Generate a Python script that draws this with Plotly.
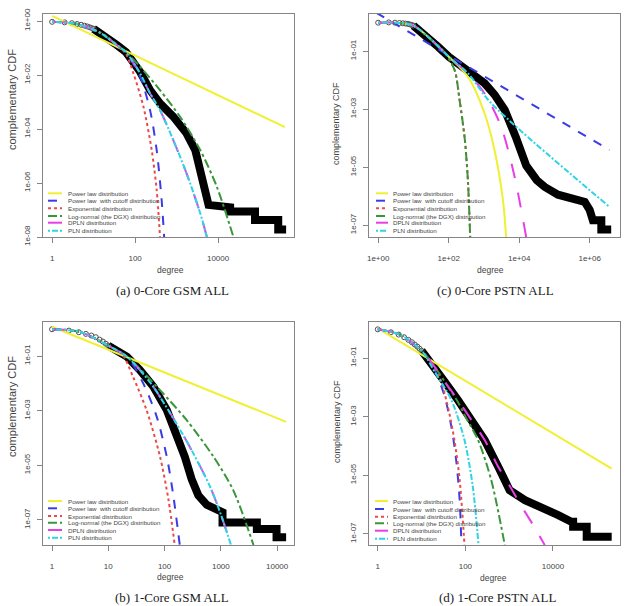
import plotly.graph_objects as go

# ---------------- DATA (log10 of degree, log10 of complementary CDF) ----------------
# Panel (a) 0-Core GSM ALL
A_HEAD_LX = [0, 0.301, 0.477, 0.602, 0.699, 0.778, 0.845, 0.903, 0.954, 1.0]
A_HEAD_LY = [-0.03, -0.05, -0.08, -0.11, -0.14, -0.17, -0.20, -0.23, -0.26, -0.29]
A_EMP_LX = [1.0, 1.16, 1.4, 1.56, 1.78, 2.0, 2.12, 2.36, 2.6, 2.92, 3.24, 3.45, 3.55, 3.63, 3.69, 3.73, 3.77,
            4.29, 4.29, 4.89, 4.89, 5.45, 5.45, 5.64]
A_EMP_LY = [-0.29, -0.44, -0.70, -0.89, -1.15, -1.55, -1.88, -2.56, -3.05, -3.54, -4.16, -4.78, -5.40, -5.77,
            -6.26, -6.63, -6.81, -6.90, -7.06, -7.06, -7.37, -7.37, -7.72, -7.72]
A_PL_LX = [0, 5.61]
A_PL_LY = [0.19, -3.93]
A_PLC_LX = [0, 0.6, 1.16, 1.56, 1.78, 2.12, 2.36, 2.52, 2.64, 2.70]
A_PLC_LY = [-0.03, -0.11, -0.44, -0.89, -1.18, -2.06, -3.30, -4.78, -6.63, -8.0]
A_EXP_LX = [0, 0.6, 1.16, 1.56, 1.78, 1.96, 2.2, 2.40, 2.52, 2.60]
A_EXP_LY = [-0.03, -0.10, -0.42, -0.88, -1.22, -1.94, -3.17, -4.78, -6.26, -8.0]
A_LN_LX = [0, 0.6, 1.16, 1.56, 1.78, 2.12, 2.60, 3.08, 3.57, 3.97, 4.37]
A_LN_LY = [-0.03, -0.11, -0.44, -0.89, -1.15, -1.69, -2.56, -3.54, -4.78, -6.14, -8.0]
A_DPLN_LX = [0, 0.6, 1.16, 1.56, 1.78, 2.12, 2.36, 2.60, 2.92, 3.24, 3.57, 3.73]
A_DPLN_LY = [-0.03, -0.11, -0.44, -0.89, -1.15, -1.94, -2.68, -3.30, -4.41, -5.64, -7.12, -8.0]
A_PLN_LX = [0, 0.6, 1.16, 1.56, 1.78, 2.12, 2.36, 2.60, 2.92, 3.24, 3.57, 3.73]
A_PLN_LY = [-0.03, -0.11, -0.44, -0.89, -1.15, -1.94, -2.68, -3.30, -4.41, -5.64, -7.12, -8.0]

# Panel (c) 0-Core PSTN ALL
C_HEAD_LX = [0, 0.301, 0.477, 0.602, 0.699, 0.778, 0.845, 0.903, 0.954, 1.0]
C_HEAD_LY = [-0.02, -0.01, -0.02, -0.03, -0.04, -0.05, -0.06, -0.08, -0.10, -0.12]
C_EMP_LX = [1.0, 1.42, 1.7, 2.01, 2.3, 2.55, 3.02, 3.3, 3.59, 3.9, 4.2, 4.5, 4.72, 5.1, 5.48, 5.86, 6.0, 6.09,
            6.33, 6.33, 6.61]
C_EMP_LY = [-0.12, -0.51, -0.85, -1.2, -1.45, -1.66, -2.11, -2.5, -3.03, -3.95, -4.95, -5.45, -5.68, -5.95,
            -6.1, -6.2, -6.48, -6.83, -6.83, -7.15, -7.15]
C_PL_LX = [0, 0.5, 1.0, 1.42, 2.01, 2.55, 3.02, 3.30, 3.54, 3.63]
C_PL_LY = [-0.02, -0.02, -0.12, -0.51, -1.2, -1.89, -3.15, -4.41, -6.14, -7.42]
C_PLC_LX = [-0.05, 6.56]
C_PLC_LY = [0.32, -4.41]
C_EXP_LX = [0, 0.5, 1.0, 1.42, 1.9, 2.17, 2.31, 2.46, 2.55, 2.61]
C_EXP_LY = [-0.02, -0.02, -0.12, -0.51, -1.07, -1.66, -2.69, -4.07, -5.56, -7.42]
C_LN_LX = [0, 0.5, 1.0, 1.42, 1.9, 2.17, 2.31, 2.46, 2.55, 2.61]
C_LN_LY = [-0.02, -0.02, -0.12, -0.51, -1.07, -1.66, -2.69, -4.07, -5.56, -7.42]
C_DPLN_LX = [0, 0.5, 1.0, 1.42, 2.01, 2.55, 3.02, 3.49, 3.87, 4.2]
C_DPLN_LY = [-0.02, -0.02, -0.12, -0.51, -1.2, -1.77, -2.46, -3.61, -5.33, -7.42]
C_PLN_LX = [0, 0.5, 1.0, 1.42, 2.01, 2.55, 3.21, 6.56]
C_PLN_LY = [-0.02, -0.02, -0.12, -0.51, -1.2, -1.77, -2.80, -6.37]

# Panel (b) 1-Core GSM ALL
B_HEAD_LX = [0, 0.301, 0.477, 0.602, 0.699, 0.778, 0.845, 0.903, 0.954, 1.0]
B_HEAD_LY = [-0.02, -0.07, -0.13, -0.19, -0.25, -0.31, -0.40, -0.47, -0.55, -0.62]
B_EMP_LX = [1.0, 1.33, 1.56, 1.80, 2.04, 2.21, 2.36, 2.48, 2.6, 2.75, 2.9, 3.03, 3.03, 3.64, 3.64, 3.99, 3.99, 4.16]
B_EMP_LY = [-0.62, -1.02, -1.51, -2.12, -2.98, -3.83, -4.69, -5.5, -6.1, -6.45, -6.62, -6.72, -7.10, -7.10,
            -7.33, -7.33, -7.64, -7.64]
B_PL_LX = [0, 4.16]
B_PL_LY = [0.07, -3.41]
B_PLC_LX = [0, 0.5, 1.0, 1.33, 1.62, 1.86, 2.04, 2.15, 2.27]
B_PLC_LY = [-0.02, -0.12, -0.62, -1.02, -2.0, -3.22, -4.69, -6.03, -7.92]
B_EXP_LX = [0, 0.5, 1.0, 1.25, 1.44, 1.68, 1.92, 2.07, 2.18]
B_EXP_LY = [-0.02, -0.12, -0.62, -0.95, -1.76, -2.98, -4.69, -6.27, -7.92]
B_LN_LX = [0, 0.5, 1.0, 1.33, 1.6, 1.92, 2.39, 2.87, 3.22, 3.58]
B_LN_LY = [-0.02, -0.12, -0.62, -1.02, -1.55, -2.25, -3.34, -4.69, -5.91, -7.92]
B_DPLN_LX = [0, 0.5, 1.0, 1.33, 1.56, 1.80, 1.92, 2.21, 2.51, 2.81, 3.0, 3.18]
B_DPLN_LY = [-0.02, -0.12, -0.62, -1.02, -1.51, -2.12, -2.5, -3.47, -4.56, -5.79, -6.8, -7.92]
B_PLN_LX = [0, 0.5, 1.0, 1.33, 1.56, 1.80, 1.92, 2.21, 2.51, 2.81, 3.0, 3.18]
B_PLN_LY = [-0.02, -0.12, -0.62, -1.02, -1.51, -2.12, -2.5, -3.47, -4.56, -5.79, -6.8, -7.92]

# Panel (d) 1-Core PSTN ALL
D_HEAD_LX = [0, 0.301, 0.477, 0.602, 0.699, 0.778, 0.845, 0.903, 0.954, 1.0]
D_HEAD_LY = [-0.02, -0.12, -0.20, -0.29, -0.38, -0.46, -0.54, -0.61, -0.68, -0.75]
D_EMP_LX = [1.0, 1.30, 1.53, 1.83, 2.14, 2.44, 2.75, 3.01, 3.36, 3.81, 4.12, 4.42, 4.46, 4.46, 4.77, 4.77, 5.34]
D_EMP_LY = [-0.75, -1.3, -1.81, -2.43, -3.12, -3.8, -4.71, -5.51, -5.85, -6.13, -6.36, -6.59, -6.59, -6.76,
            -6.76, -7.10, -7.10]
D_PL_LX = [0, 5.34]
D_PL_LY = [0.01, -4.77]
D_PLC_LX = [0, 0.5, 1.0, 1.2, 1.37, 1.53, 1.68, 1.79, 1.87, 1.91]
D_PLC_LY = [-0.02, -0.2, -0.75, -1.1, -1.64, -2.32, -3.34, -4.48, -5.85, -7.38]
D_EXP_LX = [0, 0.5, 1.0, 1.2, 1.41, 1.6, 1.75, 1.87, 1.98]
D_EXP_LY = [-0.02, -0.2, -0.75, -1.1, -1.64, -2.66, -3.8, -5.16, -7.38]
D_LN_LX = [0, 0.5, 1.0, 1.3, 1.53, 1.83, 2.0, 2.29, 2.59, 2.90]
D_LN_LY = [-0.02, -0.2, -0.75, -1.3, -1.81, -2.5, -3.0, -3.8, -5.16, -7.38]
D_DPLN_LX = [0, 0.5, 1.0, 1.3, 1.53, 1.83, 2.14, 2.44, 2.75, 3.01, 3.36, 3.59, 3.81]
D_DPLN_LY = [-0.02, -0.2, -0.75, -1.3, -1.81, -2.43, -3.12, -3.8, -4.71, -5.36, -6.25, -6.8, -7.38]
D_PLN_LX = [0, 0.5, 1.0, 1.3, 1.68, 1.98, 2.17, 2.30]
D_PLN_LY = [-0.02, -0.2, -0.75, -1.47, -2.43, -3.8, -5.39, -7.38]

SERIES_NAMES = ["Power law distribution", "Power law  with cutoff distribution", "Exponential distribution",
                "Log-normal (the DGX) distribution", "DPLN distribution", "PLN distribution"]
CAPTIONS = ["(a) 0-Core GSM ALL", "(c) 0-Core PSTN ALL", "(b) 1-Core GSM ALL", "(d) 1-Core PSTN ALL"]

# tick values / labels
A_XT = [1, 100, 10000]; A_XL = ["1", "100", "10000"]
A_YT = [1, 1e-2, 1e-4, 1e-6, 1e-8]; A_YL = ["1e+00", "1e-02", "1e-04", "1e-06", "1e-08"]
C_XT = [1, 100, 1e4, 1e6]; C_XL = ["1e+00", "1e+02", "1e+04", "1e+06"]
C_YT = [1e-1, 1e-3, 1e-5, 1e-7]; C_YL = ["1e-01", "1e-03", "1e-05", "1e-07"]
B_XT = [1, 10, 100, 1000, 10000]; B_XL = ["1", "10", "100", "1000", "10000"]
B_YT = [1e-1, 1e-3, 1e-5, 1e-7]; B_YL = ["1e-01", "1e-03", "1e-05", "1e-07"]
D_XT = [1, 100, 10000]; D_XL = ["1", "100", "10000"]
D_YT = [1e-1, 1e-3, 1e-5, 1e-7]; D_YL = ["1e-01", "1e-03", "1e-05", "1e-07"]

# ---------------- STYLE ----------------
W, H = 638, 606
COLORS = ["#f0f032", "#3c3ce6", "#ea4a4a", "#3a963a", "#e83ee8", "#2ed4e4"]
DASHES = ["solid", "dash", "dot", "dashdot", "longdash", "2px,2px,6px,2px"]
TXT = "#444444"


def pw(v):
    return [10 ** t for t in v]


def fx(px):
    return px / W


def fy(py):
    return 1 - py / H


panels = [
    dict(key="", head=(A_HEAD_LX, A_HEAD_LY), emp=(A_EMP_LX, A_EMP_LY),
         fits=[(A_PL_LX, A_PL_LY), (A_PLC_LX, A_PLC_LY), (A_EXP_LX, A_EXP_LY), (A_LN_LX, A_LN_LY),
               (A_DPLN_LX, A_DPLN_LY), (A_PLN_LX, A_PLN_LY)],
         box=(43, 294, 14, 237), xr=[-0.22, 5.83], yr=[-8.0, 0.26], xt=(A_XT, A_XL), yt=(A_YT, A_YL),
         leg=(48, 62, 66, [193.3, 200.7, 208.3, 216, 222.7, 230.7]),
         cap=(172, 290), deg=(170, 270), ylab=(12, 100, 11)),
    dict(key="2", head=(C_HEAD_LX, C_HEAD_LY), emp=(C_EMP_LX, C_EMP_LY),
         fits=[(C_PL_LX, C_PL_LY), (C_PLC_LX, C_PLC_LY), (C_EXP_LX, C_EXP_LY), (C_LN_LX, C_LN_LY),
               (C_DPLN_LX, C_DPLN_LY), (C_PLN_LX, C_PLN_LY)],
         box=(369, 620, 14, 237), xr=[-0.26, 6.86], yr=[-7.41, 0.28], xt=(C_XT, C_XL), yt=(C_YT, C_YL),
         leg=(376, 388, 391, [193.3, 200.7, 208.3, 216, 222.7, 230.7]),
         cap=(496, 290), deg=(490, 270), ylab=(336, 124, 9)),
    dict(key="3", head=(B_HEAD_LX, B_HEAD_LY), emp=(B_EMP_LX, B_EMP_LY),
         fits=[(B_PL_LX, B_PL_LY), (B_PLC_LX, B_PLC_LY), (B_EXP_LX, B_EXP_LY), (B_LN_LX, B_LN_LY),
               (B_DPLN_LX, B_DPLN_LY), (B_PLN_LX, B_PLN_LY)],
         box=(43, 294, 322, 545), xr=[-0.16, 4.30], yr=[-7.92, 0.245], xt=(B_XT, B_XL), yt=(B_YT, B_YL),
         leg=(48, 62, 66, [501, 508.3, 516, 522.7, 530, 537.7]),
         cap=(172, 597), deg=(170, 577), ylab=(12, 407, 11)),
    dict(key="4", head=(D_HEAD_LX, D_HEAD_LY), emp=(D_EMP_LX, D_EMP_LY),
         fits=[(D_PL_LX, D_PL_LY), (D_PLC_LX, D_PLC_LY), (D_EXP_LX, D_EXP_LY), (D_LN_LX, D_LN_LY),
               (D_DPLN_LX, D_DPLN_LY), (D_PLN_LX, D_PLN_LY)],
         box=(369, 620, 322, 545), xr=[-0.2, 5.53], yr=[-7.38, 0.23], xt=(D_XT, D_XL), yt=(D_YT, D_YL),
         leg=(375, 388, 391, [501, 509, 516.7, 523.3, 530.7, 538.7]),
         cap=(497, 597), deg=(493, 578), ylab=(337, 422, 9)),
]

fig = go.Figure()
annotations = []
shapes = []
layout_axes = {}

for i, p in enumerate(panels):
    k = p["key"]
    xa, ya = "x" + k, "y" + k
    # empirical data: thick black band of open circles
    fig.add_trace(go.Scatter(x=pw(p["emp"][0]), y=pw(p["emp"][1]), xaxis=xa, yaxis=ya, mode="lines",
                             line=dict(color="black", width=8), showlegend=False, hoverinfo="skip"))
    fig.add_trace(go.Scatter(x=pw(p["head"][0]), y=pw(p["head"][1]), xaxis=xa, yaxis=ya, mode="markers",
                             marker=dict(symbol="circle-open", size=5, color="#505050", line=dict(width=1)),
                             showlegend=False, hoverinfo="skip"))
    for j, (lx, ly) in enumerate(p["fits"]):
        fig.add_trace(go.Scatter(x=pw(lx), y=pw(ly), xaxis=xa, yaxis=ya, mode="lines", name=SERIES_NAMES[j],
                                 line=dict(color=COLORS[j], width=2, dash=DASHES[j], shape="spline",
                                           smoothing=0.8),
                                 showlegend=False))
    x0, x1, y0, y1 = p["box"]
    axis_common = dict(type="log", showgrid=False, zeroline=False, showline=True, mirror=True,
                       linecolor="#858585", linewidth=1, ticks="outside", ticklen=5, tickcolor="#858585",
                       tickfont=dict(family="Liberation Sans, Arial", size=8, color=TXT), automargin=False)
    layout_axes["xaxis" + k] = dict(axis_common, domain=[fx(x0), fx(x1)], range=p["xr"], anchor=ya,
                                    tickvals=p["xt"][0], ticktext=p["xt"][1], ticklabelstandoff=8)
    layout_axes["yaxis" + k] = dict(axis_common, domain=[fy(y1), fy(y0)], range=p["yr"], anchor=xa,
                                    tickvals=p["yt"][0], ticktext=p["yt"][1], tickangle=-90,
                                    ticklabelstandoff=4)
    # legend drawn as in R: line samples + text, no box
    sx0, sx1, tx, rows = p["leg"]
    for j, ry in enumerate(rows):
        shapes.append(dict(type="line", xref="paper", yref="paper", x0=fx(sx0), x1=fx(sx1), y0=fy(ry),
                           y1=fy(ry), line=dict(color=COLORS[j], width=2, dash=DASHES[j])))
        annotations.append(dict(text=SERIES_NAMES[j], xref="paper", yref="paper", x=fx(tx), y=fy(ry),
                                xanchor="left", yanchor="middle", showarrow=False,
                                font=dict(family="Liberation Sans, Arial", size=6.2, color=TXT)))
    annotations.append(dict(text=CAPTIONS[i], xref="paper", yref="paper", x=fx(p["cap"][0]), y=fy(p["cap"][1]),
                            xanchor="center", yanchor="middle", showarrow=False,
                            font=dict(family="Liberation Serif, Times New Roman", size=13, color="#1a1a1a")))
    annotations.append(dict(text="degree", xref="paper", yref="paper", x=fx(p["deg"][0]), y=fy(p["deg"][1]),
                            xanchor="center", yanchor="middle", showarrow=False,
                            font=dict(family="Liberation Sans, Arial", size=8.5, color=TXT)))
    annotations.append(dict(text="complementary CDF", xref="paper", yref="paper", x=fx(p["ylab"][0]),
                            y=fy(p["ylab"][1]), xanchor="center", yanchor="middle", textangle=-90,
                            showarrow=False,
                            font=dict(family="Liberation Sans, Arial", size=p["ylab"][2], color=TXT)))

fig.update_layout(width=W, height=H, margin=dict(l=0, r=0, t=0, b=0), paper_bgcolor="white",
                  plot_bgcolor="white", showlegend=False, annotations=annotations, shapes=shapes,
                  **layout_axes)

fig.write_html("out.html")
